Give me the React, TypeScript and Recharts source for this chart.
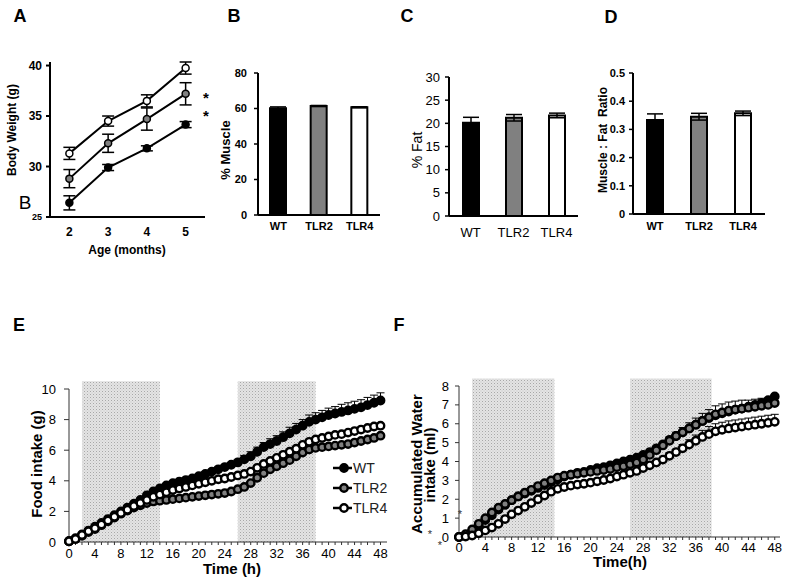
import React from "react";
import {
  Bar,
  BarChart,
  Cell,
  ErrorBar,
  Line,
  LineChart,
  ReferenceArea,
  XAxis,
  YAxis,
} from "recharts";

const FONT = '"Liberation Sans", Arial, Helvetica, sans-serif';
const WT_FILL = "#000000";
const TLR2_FILL = "#808080";
const TLR4_FILL = "#ffffff";

// A: body weight by age
const AGES = [2, 3, 4, 5];
const AGE_EDGES = [1.5, 2.5, 3.5, 4.5, 5.5];
const WEIGHT_TICKS = [25, 30, 35, 40];
const WEIGHT_WT = [26.4, 29.9, 31.8, 34.15];
const WEIGHT_WT_ERR = [0.7, 0.3, 0.25, 0.3];
const WEIGHT_TLR2 = [28.8, 32.3, 34.7, 37.2];
const WEIGHT_TLR2_ERR = [0.9, 0.9, 1.1, 1.1];
const WEIGHT_TLR4 = [31.3, 34.5, 36.5, 39.75];
const WEIGHT_TLR4_ERR = [0.6, 0.5, 0.6, 0.6];

// B-D: body composition
const GROUPS = ["WT", "TLR2", "TLR4"];
const GROUP_FILLS = [WT_FILL, TLR2_FILL, TLR4_FILL];
const MUSCLE = [60.1, 61.4, 60.7];
const MUSCLE_ERR = [0.8, 0.3, 0.3];
const MUSCLE_TICKS = [0, 20, 40, 60, 80];
const FAT = [20.1, 21.2, 21.7];
const FAT_ERR = [1.2, 0.7, 0.5];
const FAT_TICKS = [0, 5, 10, 15, 20, 25, 30];
const RATIO = [0.333, 0.345, 0.357];
const RATIO_ERR = [0.022, 0.012, 0.008];
const RATIO_TICKS = [0, 0.1, 0.2, 0.3, 0.4, 0.5];

// E-F: hourly intake
const HOURS = [
  0, 1, 2, 3, 4, 5, 6, 7, 8, 9, 10, 11, 12, 13, 14, 15, 16, 17, 18, 19, 20,
  21, 22, 23, 24, 25, 26, 27, 28, 29, 30, 31, 32, 33, 34, 35, 36, 37, 38, 39,
  40, 41, 42, 43, 44, 45, 46, 47, 48,
];
const HOUR_LABELS = [0, 4, 8, 12, 16, 20, 24, 28, 32, 36, 40, 44, 48];
const DARK_E = [
  [2, 14],
  [26, 38],
];
const DARK_F = [
  [2, 14.5],
  [26, 38.4],
];

const FOOD_TICKS = [0, 2, 4, 6, 8, 10];
const FOOD_WT = [
  0.05, 0.25, 0.5, 0.75, 1.0, 1.25, 1.5, 1.75, 2.0, 2.25,
  2.5, 2.75, 3.05, 3.3, 3.5, 3.7, 3.85, 3.95, 4.05, 4.15,
  4.3, 4.45, 4.6, 4.75, 4.9, 5.05, 5.2, 5.4, 5.6, 5.9,
  6.2, 6.4, 6.6, 6.85, 7.1, 7.35, 7.6, 7.85, 8.0, 8.15,
  8.3, 8.4, 8.5, 8.6, 8.7, 8.8, 8.95, 9.1, 9.25,
];
const FOOD_WT_ERR = [
  0.05, 0.05, 0.05, 0.05, 0.05, 0.05, 0.05, 0.05, 0.05, 0.05,
  0.1, 0.1, 0.1, 0.1, 0.1, 0.1, 0.1, 0.1, 0.1, 0.1,
  0.15, 0.15, 0.15, 0.15, 0.15, 0.15, 0.2, 0.25, 0.3, 0.3,
  0.3, 0.35, 0.35, 0.35, 0.4, 0.4, 0.4, 0.45, 0.45, 0.45,
  0.45, 0.45, 0.5, 0.5, 0.5, 0.5, 0.5, 0.5, 0.5,
];
const FOOD_TLR2 = [
  0.05, 0.2, 0.4, 0.65, 0.85, 1.1, 1.35, 1.6, 1.85, 2.05,
  2.25, 2.4, 2.55, 2.65, 2.7, 2.75, 2.8, 2.85, 2.9, 2.95,
  3.0, 3.05, 3.1, 3.15, 3.2, 3.3, 3.45, 3.6, 3.85, 4.2,
  4.5, 4.75, 4.95, 5.15, 5.35, 5.6, 5.85, 6.05, 6.15, 6.2,
  6.25, 6.3, 6.35, 6.4, 6.5, 6.6, 6.7, 6.8, 6.95,
];
const FOOD_TLR4 = [
  0.05, 0.2, 0.45, 0.7, 0.9, 1.15, 1.4, 1.65, 1.9, 2.1,
  2.35, 2.55, 2.75, 2.95, 3.1, 3.25, 3.4, 3.5, 3.6, 3.7,
  3.8, 3.9, 4.0, 4.1, 4.15, 4.25, 4.35, 4.45, 4.6, 4.85,
  5.1, 5.3, 5.5, 5.7, 5.9, 6.1, 6.35, 6.55, 6.7, 6.8,
  6.9, 7.0, 7.05, 7.15, 7.25, 7.35, 7.45, 7.55, 7.6,
];

const WATER_TICKS = [0, 1, 2, 3, 4, 5, 6, 7, 8];
const WATER_WT = [
  0, 0.1, 0.3, 0.6, 0.9, 1.15, 1.45, 1.7, 1.95, 2.15,
  2.3, 2.45, 2.6, 2.75, 2.9, 3.05, 3.2, 3.3, 3.4, 3.45,
  3.55, 3.65, 3.7, 3.8, 3.9, 4.0, 4.1, 4.2, 4.35, 4.5,
  4.7, 4.9, 5.15, 5.35, 5.55, 5.75, 5.95, 6.15, 6.3, 6.45,
  6.55, 6.65, 6.75, 6.8, 6.9, 7.0, 7.1, 7.25, 7.45,
];
const WATER_TLR2 = [
  0, 0.15, 0.4, 0.7, 1.0, 1.3, 1.55, 1.75, 1.95, 2.15,
  2.35, 2.5, 2.7, 2.85, 3.0, 3.15, 3.25, 3.3, 3.35, 3.4,
  3.45, 3.5, 3.55, 3.6, 3.7, 3.75, 3.85, 3.95, 4.1, 4.35,
  4.6, 4.85, 5.1, 5.35, 5.55, 5.75, 5.95, 6.15, 6.35, 6.5,
  6.6, 6.7, 6.75, 6.8, 6.85, 6.9, 6.95, 7.0, 7.1,
];
const WATER_TLR2_ERR = [
  0.05, 0.05, 0.05, 0.05, 0.05, 0.05, 0.05, 0.05, 0.05, 0.05,
  0.1, 0.1, 0.1, 0.1, 0.1, 0.1, 0.1, 0.1, 0.1, 0.1,
  0.1, 0.1, 0.1, 0.1, 0.1, 0.1, 0.1, 0.1, 0.1, 0.1,
  0.15, 0.15, 0.2, 0.2, 0.25, 0.3, 0.35, 0.4, 0.4, 0.45,
  0.45, 0.45, 0.45, 0.45, 0.4, 0.4, 0.4, 0.35, 0.35,
];
const WATER_TLR4 = [
  0, 0.02, 0.08, 0.2, 0.35, 0.5, 0.7, 0.95, 1.2, 1.4,
  1.6, 1.8, 2.0, 2.2, 2.4, 2.55, 2.65, 2.72, 2.78, 2.82,
  2.88, 2.95, 3.02, 3.1, 3.2, 3.3, 3.4, 3.5, 3.65, 3.8,
  3.95, 4.1, 4.3, 4.5, 4.7, 4.9, 5.1, 5.3, 5.45, 5.6,
  5.68, 5.75, 5.8, 5.85, 5.9, 5.95, 6.0, 6.05, 6.1,
];
const WATER_TLR4_ERR = [
  0.05, 0.05, 0.05, 0.05, 0.05, 0.05, 0.05, 0.05, 0.05, 0.05,
  0.1, 0.1, 0.1, 0.1, 0.1, 0.1, 0.1, 0.1, 0.1, 0.1,
  0.1, 0.1, 0.1, 0.1, 0.1, 0.1, 0.1, 0.1, 0.1, 0.1,
  0.1, 0.1, 0.15, 0.15, 0.2, 0.25, 0.3, 0.35, 0.4, 0.4,
  0.4, 0.4, 0.4, 0.4, 0.4, 0.4, 0.4, 0.4, 0.4,
];

const weightData = AGES.map((age, i) => ({
  age,
  wt: WEIGHT_WT[i],
  wtErr: WEIGHT_WT_ERR[i],
  tlr2: WEIGHT_TLR2[i],
  tlr2Err: WEIGHT_TLR2_ERR[i],
  tlr4: WEIGHT_TLR4[i],
  tlr4Err: WEIGHT_TLR4_ERR[i],
}));

const foodData = HOURS.map((hour, i) => ({
  hour,
  wt: FOOD_WT[i],
  wtErr: [0, FOOD_WT_ERR[i]],
  tlr2: FOOD_TLR2[i],
  tlr4: FOOD_TLR4[i],
}));

const waterData = HOURS.map((hour, i) => ({
  hour,
  wt: WATER_WT[i],
  tlr2: WATER_TLR2[i],
  tlr2Err: [0, WATER_TLR2_ERR[i]],
  tlr4: WATER_TLR4[i],
  tlr4Err: [0, WATER_TLR4_ERR[i]],
}));

type TextProps = {
  x: number;
  y: number;
  size: number;
  bold?: boolean;
  rotate?: boolean;
  color?: string;
  children: React.ReactNode;
};

function Txt({ x, y, size, bold, rotate, color, children }: TextProps) {
  return (
    <div
      style={{
        position: "absolute",
        left: x,
        top: y,
        transform: `translate(-50%, -50%)${rotate ? " rotate(-90deg)" : ""}`,
        fontSize: size,
        fontWeight: bold ? 700 : 400,
        color: color || "#000",
        whiteSpace: "pre",
        lineHeight: 1,
      }}
    >
      {children}
    </div>
  );
}

function WeightTick(props: any) {
  const { x, y, payload } = props;
  const small = payload.value === 25;
  return (
    <text
      x={x}
      y={y}
      dy={small ? 3 : 4}
      textAnchor="end"
      fontSize={small ? 9 : 12}
      fontWeight={700}
      fill="#000"
    >
      {payload.value}
    </text>
  );
}

function WeightChart() {
  const dot = (fill: string) => ({ r: 3.5, fill, stroke: "#000", strokeWidth: 1.5 });
  return (
    <div style={{ position: "absolute", left: 0, top: 40 }}>
      <LineChart
        width={215}
        height={208}
        data={weightData}
        margin={{ top: 22, right: 10, bottom: 0, left: 0 }}
      >
        {/* label axis first in markup, boundary-tick axis (alphabetically first id) second */}
        <XAxis
          xAxisId="zLabels"
          type="number"
          dataKey="age"
          domain={[1.5, 5.5]}
          ticks={AGES}
          interval={0}
          axisLine={false}
          tickLine={false}
          height={30}
          tickSize={4}
          tickMargin={5}
          tick={{ fontSize: 12, fontWeight: 700, fill: "#000" }}
        />
        <XAxis
          xAxisId="aEdges"
          type="number"
          dataKey="age"
          domain={[1.5, 5.5]}
          ticks={AGE_EDGES}
          interval={0}
          tick={false}
          height={1}
          tickSize={4}
          axisLine={{ stroke: "#000", strokeWidth: 2 }}
          tickLine={{ stroke: "#000", strokeWidth: 2 }}
        />
        <YAxis
          type="number"
          domain={[25, 40]}
          ticks={WEIGHT_TICKS}
          interval={0}
          width={50}
          tickSize={4}
          tickMargin={4}
          axisLine={{ stroke: "#000", strokeWidth: 2 }}
          tickLine={{ stroke: "#000", strokeWidth: 2 }}
          tick={<WeightTick />}
        />
        <Line
          xAxisId="zLabels"
          dataKey="wt"
          stroke="#000"
          strokeWidth={2}
          dot={dot(WT_FILL)}
          activeDot={false}
          isAnimationActive={false}
        >
          <ErrorBar dataKey="wtErr" direction="y" width={6} stroke="#000" strokeWidth={1.5} />
        </Line>
        <Line
          xAxisId="zLabels"
          dataKey="tlr2"
          stroke="#000"
          strokeWidth={2}
          dot={dot(TLR2_FILL)}
          activeDot={false}
          isAnimationActive={false}
        >
          <ErrorBar dataKey="tlr2Err" direction="y" width={6} stroke="#000" strokeWidth={1.5} />
        </Line>
        <Line
          xAxisId="zLabels"
          dataKey="tlr4"
          stroke="#000"
          strokeWidth={2}
          dot={dot(TLR4_FILL)}
          activeDot={false}
          isAnimationActive={false}
        >
          <ErrorBar dataKey="tlr4Err" direction="y" width={6} stroke="#000" strokeWidth={1.5} />
        </Line>
      </LineChart>
    </div>
  );
}

type BarPanelProps = {
  left: number;
  top: number;
  width: number;
  height: number;
  yWidth: number;
  marginTop: number;
  marginRight: number;
  values: number[];
  errors: number[];
  ticks: number[];
  bold: boolean;
  fontSize: number;
  yTickMargin: number;
  xTickMargin: number;
};

function BarPanel(p: BarPanelProps) {
  const data = GROUPS.map((name, i) => ({ name, value: p.values[i], err: p.errors[i] }));
  const tickStyle = { fontSize: p.fontSize, fontWeight: p.bold ? 700 : 400, fill: "#000" };
  return (
    <div style={{ position: "absolute", left: p.left, top: p.top }}>
      <BarChart
        width={p.width}
        height={p.height}
        data={data}
        margin={{ top: p.marginTop, right: p.marginRight, bottom: 0, left: 0 }}
      >
        <XAxis
          dataKey="name"
          height={30}
          tickLine={false}
          tickSize={4}
          tickMargin={p.xTickMargin}
          axisLine={{ stroke: "#000", strokeWidth: 2 }}
          tick={tickStyle}
        />
        <YAxis
          type="number"
          domain={[p.ticks[0], p.ticks[p.ticks.length - 1]]}
          ticks={p.ticks}
          interval={0}
          width={p.yWidth}
          tickSize={4}
          tickMargin={p.yTickMargin}
          axisLine={{ stroke: "#000", strokeWidth: 2 }}
          tickLine={{ stroke: "#000", strokeWidth: 1.5 }}
          tick={tickStyle}
        />
        <Bar dataKey="value" barSize={16} stroke="#000" strokeWidth={2} isAnimationActive={false}>
          {data.map((d, i) => (
            <Cell key={d.name} fill={GROUP_FILLS[i]} />
          ))}
          <ErrorBar dataKey="err" direction="y" width={8} stroke="#000" strokeWidth={1.5} />
        </Bar>
      </BarChart>
    </div>
  );
}

function DotPattern({ id }: { id: string }) {
  return (
    <pattern id={id} width={3} height={3} patternUnits="userSpaceOnUse">
      <rect width={3} height={3} fill="#e4e4e4" />
      <rect width={1} height={1} fill="#a8a8a8" />
      <rect x={1.5} y={1.5} width={1} height={1} fill="#c4c4c4" />
    </pattern>
  );
}

const hourLabel = (v: number) => (HOUR_LABELS.includes(v) ? String(v) : "");
const seriesDot = (fill: string) => ({ r: 3.7, fill, stroke: "#000", strokeWidth: 2.4 });

function FoodChart() {
  return (
    <div style={{ position: "absolute", left: 0, top: 370 }}>
      <LineChart
        width={400}
        height={200}
        data={foodData}
        margin={{ top: 19, right: 13, bottom: 0, left: 0 }}
      >
        <defs>
          <DotPattern id="darkDotsE" />
        </defs>
        <XAxis
          dataKey="hour"
          type="number"
          domain={[0, 49]}
          ticks={HOURS}
          interval={0}
          tickFormatter={hourLabel}
          height={28}
          tickSize={3}
          tickMargin={4}
          axisLine={{ stroke: "#333" }}
          tickLine={{ stroke: "#333" }}
          tick={{ fontSize: 13, fill: "#000" }}
        />
        <YAxis
          type="number"
          domain={[0, 10]}
          ticks={FOOD_TICKS}
          interval={0}
          width={69}
          tickSize={5}
          tickMargin={8}
          axisLine={{ stroke: "#333" }}
          tickLine={{ stroke: "#333" }}
          tick={{ fontSize: 13, fill: "#000" }}
        />
        {DARK_E.map(([a, b]) => (
          <ReferenceArea
            key={a}
            x1={a}
            x2={b}
            y1={0}
            y2={10.5}
            ifOverflow="visible"
            fill="url(#darkDotsE)"
            fillOpacity={1}
            stroke="none"
          />
        ))}
        <Line dataKey="wt" stroke="#000" strokeWidth={1.5} dot={seriesDot(WT_FILL)} activeDot={false} isAnimationActive={false}>
          <ErrorBar dataKey="wtErr" direction="y" width={4} stroke="#000" strokeWidth={1} />
        </Line>
        <Line dataKey="tlr2" stroke="#000" strokeWidth={1.5} dot={seriesDot(TLR2_FILL)} activeDot={false} isAnimationActive={false} />
        <Line dataKey="tlr4" stroke="#000" strokeWidth={1.5} dot={seriesDot(TLR4_FILL)} activeDot={false} isAnimationActive={false} />
      </LineChart>
    </div>
  );
}

function WaterChart() {
  return (
    <div style={{ position: "absolute", left: 395, top: 365 }}>
      <LineChart
        width={400}
        height={200}
        data={waterData}
        margin={{ top: 21, right: 15, bottom: 0, left: 0 }}
      >
        <defs>
          <DotPattern id="darkDotsF" />
        </defs>
        <XAxis
          dataKey="hour"
          type="number"
          domain={[0, 48.8]}
          ticks={HOURS}
          interval={0}
          tickFormatter={hourLabel}
          height={28}
          tickSize={3}
          tickMargin={3}
          axisLine={{ stroke: "#333" }}
          tickLine={{ stroke: "#333" }}
          tick={{ fontSize: 13, fill: "#000" }}
        />
        <YAxis
          type="number"
          domain={[0, 8]}
          ticks={WATER_TICKS}
          interval={0}
          width={64}
          tickSize={4}
          tickMargin={6}
          axisLine={{ stroke: "#333" }}
          tickLine={{ stroke: "#333" }}
          tick={{ fontSize: 13, fill: "#000" }}
        />
        {DARK_F.map(([a, b]) => (
          <ReferenceArea
            key={a}
            x1={a}
            x2={b}
            y1={0}
            y2={8.4}
            ifOverflow="visible"
            fill="url(#darkDotsF)"
            fillOpacity={1}
            stroke="none"
          />
        ))}
        <Line dataKey="wt" stroke="#000" strokeWidth={1.5} dot={seriesDot(WT_FILL)} activeDot={false} isAnimationActive={false} />
        <Line dataKey="tlr2" stroke="#000" strokeWidth={1.5} dot={seriesDot(TLR2_FILL)} activeDot={false} isAnimationActive={false}>
          <ErrorBar dataKey="tlr2Err" direction="y" width={4} stroke="#000" strokeWidth={1} />
        </Line>
        <Line dataKey="tlr4" stroke="#000" strokeWidth={1.5} dot={seriesDot(TLR4_FILL)} activeDot={false} isAnimationActive={false}>
          <ErrorBar dataKey="tlr4Err" direction="y" width={4} stroke="#000" strokeWidth={1} />
        </Line>
      </LineChart>
    </div>
  );
}

function FoodLegend() {
  return (
    <div style={{ position: "absolute", left: 332, top: 458 }}>
      {GROUPS.map((name, i) => (
        <div key={name} style={{ display: "flex", alignItems: "center", height: 20 }}>
          <svg width={21} height={12}>
            <line x1={1} y1={6} x2={20} y2={6} stroke="#000" strokeWidth={2.5} />
            <circle cx={12} cy={6} r={3.7} fill={GROUP_FILLS[i]} stroke="#000" strokeWidth={2.4} />
          </svg>
          <span style={{ fontSize: 14, color: "#222" }}>{name}</span>
        </div>
      ))}
    </div>
  );
}

export default function App() {
  return (
    <div
      style={{
        position: "absolute",
        left: 0,
        top: 0,
        width: 795,
        height: 582,
        overflow: "hidden",
        background: "#fff",
        fontFamily: FONT,
      }}
    >
      <WeightChart />
      <BarPanel
        left={220}
        top={50}
        width={170}
        height={195}
        yWidth={38}
        marginTop={23}
        marginRight={10}
        values={MUSCLE}
        errors={MUSCLE_ERR}
        ticks={MUSCLE_TICKS}
        bold
        fontSize={11}
        yTickMargin={7}
        xTickMargin={3}
      />
      <BarPanel
        left={400}
        top={50}
        width={185}
        height={196}
        yWidth={49}
        marginTop={27}
        marginRight={7}
        values={FAT}
        errors={FAT_ERR}
        ticks={FAT_TICKS}
        bold={false}
        fontSize={13}
        yTickMargin={5}
        xTickMargin={8}
      />
      <BarPanel
        left={590}
        top={50}
        width={185}
        height={194}
        yWidth={43}
        marginTop={23}
        marginRight={10}
        values={RATIO}
        errors={RATIO_ERR}
        ticks={RATIO_TICKS}
        bold
        fontSize={11}
        yTickMargin={4}
        xTickMargin={4}
      />
      <FoodChart />
      <WaterChart />
      <FoodLegend />

      <Txt x={20} y={16} size={18} bold>A</Txt>
      <Txt x={234} y={16} size={18} bold>B</Txt>
      <Txt x={407} y={16} size={18} bold>C</Txt>
      <Txt x={611} y={17} size={18} bold>D</Txt>
      <Txt x={19} y={325} size={18} bold>E</Txt>
      <Txt x={399} y={325} size={18} bold>F</Txt>

      <Txt x={12} y={130} size={12} bold rotate>Body Weight (g)</Txt>
      <Txt x={127} y={250} size={12} bold>Age (months)</Txt>
      <Txt x={25} y={202} size={19}>B</Txt>
      <Txt x={206} y={97} size={15} bold>*</Txt>
      <Txt x={206} y={115} size={15} bold>*</Txt>

      <Txt x={225} y={150} size={13} bold rotate>% Muscle</Txt>
      <Txt x={417} y={150} size={14} rotate>% Fat</Txt>
      <Txt x={603} y={140} size={12} bold rotate>{"Muscle : Fat  Ratio"}</Txt>

      <Txt x={36} y={464} size={15} bold rotate>Food intake (g)</Txt>
      <Txt x={232} y={568} size={15} bold>Time (h)</Txt>

      <Txt x={416} y={464} size={15} bold rotate>Accumulated Water</Txt>
      <Txt x={429} y={465} size={15} bold rotate>intake (ml)</Txt>
      <Txt x={620} y={561} size={15} bold>Time(h)</Txt>
      <Txt x={460} y={514} size={11} color="#333">*</Txt>
      <Txt x={430} y={534} size={11} color="#333">*</Txt>
      <Txt x={440} y={545} size={11} color="#333">*</Txt>
    </div>
  );
}
